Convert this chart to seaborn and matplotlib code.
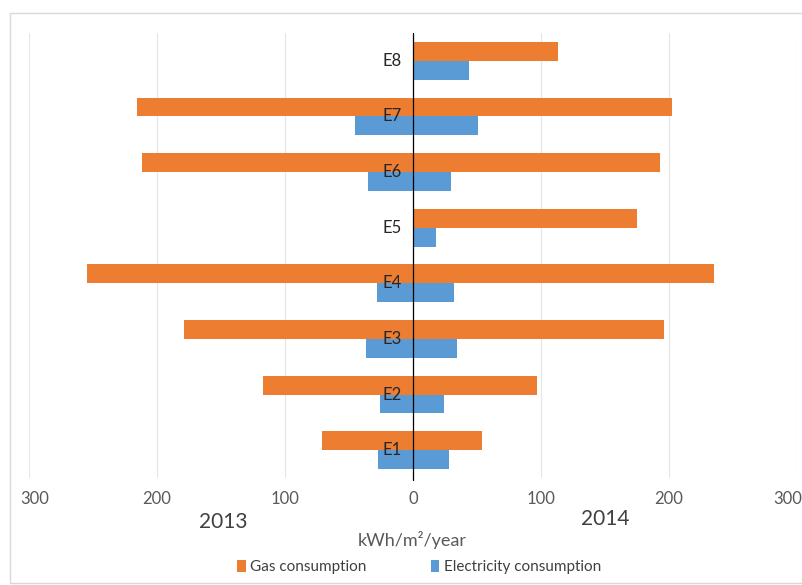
import matplotlib
matplotlib.use("Agg")
import matplotlib.pyplot as plt
from matplotlib.patches import Rectangle, Patch
import matplotlib.transforms as mtrans
import seaborn as sns
import pandas as pd

categories = ["E1", "E2", "E3", "E4", "E5", "E6", "E7", "E8"]
gas_2013 = [71, 117, 179, 255, 0, 212, 216, 0]
gas_2014 = [54, 97, 196, 235, 175, 193, 202, 113]
elec_2013 = [27, 26, 37, 28, 0, 35, 45, 0]
elec_2014 = [28, 24.5, 34, 32, 18, 30, 51, 44]
tick_values = [-300, -200, -100, 0, 100, 200, 300]
tick_labels = ["300", "200", "100", "0", "100", "200", "300"]
series_names = ["Gas consumption", "Electricity consumption"]
colors = ["#ED7D31", "#5B9BD5"]

sns.set_theme(style="white")
plt.rcParams["font.family"] = ["Lato", "DejaVu Sans"]

rows = []
for i, c in enumerate(categories):
    rows.append((c, series_names[0], "2013", -gas_2013[i]))
    rows.append((c, series_names[1], "2013", -elec_2013[i]))
    rows.append((c, series_names[0], "2014", gas_2014[i]))
    rows.append((c, series_names[1], "2014", elec_2014[i]))
df = pd.DataFrame(rows, columns=["cat", "series", "year", "value"])

fig = plt.figure(figsize=(8.03, 5.85), dpi=100)
ax = fig.add_axes([29 / 803, 1 - 478 / 585, 768 / 803, 445 / 585])

order = categories[::-1]
palette = dict(zip(series_names, colors))
for yr in ["2013", "2014"]:
    sns.barplot(data=df[df["year"] == yr], x="value", y="cat", hue="series",
                order=order, hue_order=series_names, palette=palette,
                width=0.68, saturation=1, orient="h", legend=False, ax=ax,
                errorbar=None, linewidth=0)

ax.set_xlim(-300, 300)
ax.set_ylim(7.5, -0.5)
ax.set_xticks(tick_values)
ax.set_xticklabels(tick_labels, color="#595959", fontsize=12)
ax.tick_params(axis="x", length=0, pad=9)
labels = ax.get_xticklabels()
labels[0].set_transform(labels[0].get_transform() + mtrans.ScaledTranslation(6 / 100, 0, fig.dpi_scale_trans))
labels[-1].set_transform(labels[-1].get_transform() + mtrans.ScaledTranslation(-9 / 100, 0, fig.dpi_scale_trans))
ax.set_yticks([])
ax.set_xlabel("")
ax.set_ylabel("")
for s in ax.spines.values():
    s.set_visible(False)
ax.set_axisbelow(True)
for v in tick_values:
    ax.axvline(v, color="#E6E6E6", lw=0.8, zorder=0)
ax.axvline(0, color="black", lw=0.9, zorder=5, ymin=-0.005, clip_on=False)

for i, c in enumerate(order):
    ax.text(-9, i, c, ha="right", va="center", fontsize=12, color="#262626", zorder=6)

fig.text(223 / 803, 1 - 522 / 585, "2013", ha="center", va="center", fontsize=15, color="#404040")
fig.text(605 / 803, 1 - 519 / 585, "2014", ha="center", va="center", fontsize=15, color="#404040")
fig.text(412 / 803, 1 - 540 / 585, "kWh/m²/year", ha="center", va="center", fontsize=13, color="#595959")

handles = [Patch(facecolor=col, edgecolor="none") for col in colors]
fig.legend(handles, series_names, loc="center", bbox_to_anchor=(419 / 803, 1 - 567 / 585),
           ncol=2, frameon=False, fontsize=11, handlelength=0.55, handleheight=0.9,
           handletextpad=0.3, columnspacing=4.2, labelcolor="#404040")

fig.add_artist(Rectangle((10 / 803, 2 / 585), 1.0, (583 - 13) / 585, transform=fig.transFigure,
                         fill=False, edgecolor="#D9D9D9", lw=1))

fig.savefig("out.png", dpi=100)
